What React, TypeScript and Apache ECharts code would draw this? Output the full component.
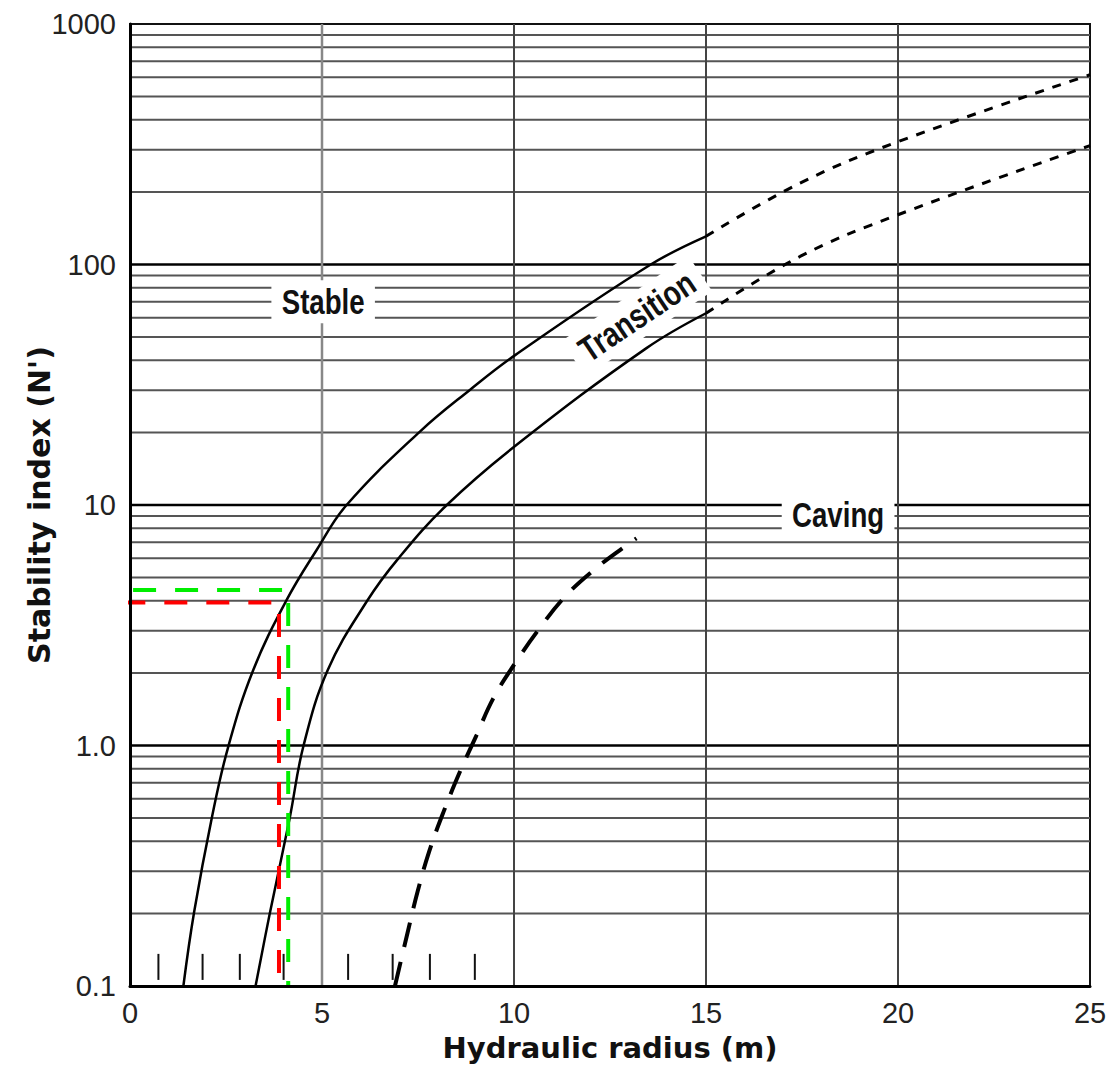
import React, { useEffect, useRef } from "react";
import * as echarts from "echarts";

// ---------- data ----------
const xTickValues = [0, 5, 10, 15, 20, 25];
const yTickLabels = ["0.1", "1.0", "10", "100", "1000"];
const verticalGridValues = [5, 10, 15, 20];
const majorLevels = [1, 10, 100];
const minorLevels = [
  0.2, 0.3, 0.4, 0.5, 0.6, 0.7, 0.8, 0.9,
  2, 3, 4, 5, 6, 7, 8, 9,
  20, 30, 40, 50, 60, 70, 80, 90,
  200, 300, 400, 500, 600, 700, 800, 900,
];

// Stable / Transition boundary
const upperSolid = [
  [1.39, 0.1], [1.67, 0.203], [2.13, 0.5], [2.56, 0.99], [3.21, 2.06], [4.08, 4.03],
  [4.86, 6.5], [5.64, 10], [7.55, 20.2], [8.85, 30.1], [10.03, 42], [13.54, 99.5], [15, 131],
];
const upperDashed = [[15, 131], [17.45, 218], [20, 324], [25, 615]];

// Transition / Caving boundary
const lowerSolid = [
  [3.27, 0.1], [3.64, 0.2], [4.16, 0.5], [4.52, 1.0], [5.15, 2.06], [6.16, 3.96],
  [6.99, 6.0], [8.25, 10], [10.07, 17.8], [13.45, 44.9], [15, 62.7],
];
const lowerDashed = [[15, 62.7], [17.45, 108], [20, 161], [25, 312]];

// Caving (dashed)
const cavingCurve = [
  [6.9, 0.1], [7.23, 0.167], [7.49, 0.247], [7.79, 0.362], [8.16, 0.527], [8.58, 0.77],
  [9.02, 1.1], [9.46, 1.57], [10.03, 2.2], [10.64, 3.03], [11.31, 4.13], [12.08, 5.37],
  [12.91, 6.77], [13.19, 7.27],
];

// Annotation guides
const redGuide = [[-0.2, 3.93], [3.88, 3.93], [3.88, 0.1]];
const greenGuide = [[0.08, 4.43], [4.12, 4.43], [4.12, 0.1]];

// small ticks along the bottom
const bottomTickXs = [0.74, 1.89, 2.86, 4.0, 5.68, 6.84, 7.81, 8.98];

// zone labels (text, x, N', rotation in degrees)
const zoneLabelTexts = ["Stable", "Transition", "Caving"];
const zoneLabelX = [5.03, 13.2, 18.44];
const zoneLabelY = [70, 61, 9.08];
const zoneLabelRot = [0, 34, 0];

const X_MIN = 0;
const X_MAX = 25;
const Y_MIN = 0.1;
const Y_MAX = 1000;

export default function App() {
  const ref = useRef<HTMLDivElement>(null);

  useEffect(() => {
    if (!ref.current) return;
    const chart = echarts.init(ref.current, null, { renderer: "svg" });

    const hLine = (color: string, width: number) => (params: any, api: any) => {
      const v = api.value(1);
      const p1 = api.coord([X_MIN, v]);
      const p2 = api.coord([X_MAX, v]);
      return {
        type: "line",
        shape: { x1: p1[0], y1: p1[1], x2: p2[0], y2: p2[1] },
        style: { stroke: color, lineWidth: width },
      };
    };

    const curve = (name: string, data: number[][], width: number, dash?: number[]) => ({
      type: "line",
      name,
      z: 5,
      smooth: 0.4,
      showSymbol: false,
      data,
      lineStyle: dash
        ? { color: "#000", width, type: dash }
        : { color: "#000", width },
    });

    const option: any = {
      animation: false,
      backgroundColor: "#fff",
      grid: {
        left: 130,
        right: 20,
        top: 24,
        bottom: 88,
        show: true,
        borderColor: "#111",
        borderWidth: 2,
        backgroundColor: "transparent",
      },
      xAxis: {
        type: "value",
        min: X_MIN,
        max: X_MAX,
        interval: 5,
        z: 8,
        name: "Hydraulic radius (m)",
        nameLocation: "middle",
        nameGap: 47,
        nameTextStyle: {
          fontFamily: "DejaVu Sans",
          fontWeight: "bold",
          fontSize: 29,
          color: "#111",
        },
        axisLine: { show: true, lineStyle: { color: "#000", width: 3 } },
        axisTick: { show: false },
        splitLine: { show: false },
        axisLabel: {
          fontFamily: "Liberation Sans",
          fontSize: 29,
          color: "#222",
          margin: 12,
          formatter: (v: number) => (xTickValues.includes(v) ? String(v) : ""),
        },
      },
      yAxis: {
        type: "log",
        logBase: 10,
        min: Y_MIN,
        max: Y_MAX,
        z: 8,
        name: "Stability index (N')",
        nameLocation: "middle",
        nameGap: 76,
        nameMoveOverlap: false,
        nameTextStyle: {
          fontFamily: "DejaVu Sans",
          fontWeight: "bold",
          fontSize: 30,
          color: "#111",
        },
        axisLine: { show: true, lineStyle: { color: "#000", width: 3 } },
        axisTick: { show: false },
        splitLine: { show: false },
        axisLabel: {
          fontFamily: "Liberation Sans",
          fontSize: 29,
          color: "#222",
          margin: 14,
          formatter: (v: number, i: number) => yTickLabels[i] ?? String(v),
        },
      },
      series: [
        {
          type: "custom",
          name: "minorGrid",
          z: 1,
          silent: true,
          data: minorLevels.map((v) => [X_MIN, v]),
          renderItem: hLine("#555", 2),
        },
        {
          type: "custom",
          name: "majorGrid",
          z: 1,
          silent: true,
          data: majorLevels.map((v) => [X_MIN, v]),
          renderItem: hLine("#000", 2.5),
        },
        {
          type: "custom",
          name: "verticalGrid",
          z: 1,
          silent: true,
          data: verticalGridValues.map((x) => [x, Y_MIN]),
          renderItem: (params: any, api: any) => {
            const x = api.value(0);
            const p1 = api.coord([x, Y_MIN]);
            const p2 = api.coord([x, Y_MAX]);
            return {
              type: "line",
              shape: { x1: p1[0], y1: p1[1], x2: p2[0], y2: p2[1] },
              style: { stroke: x === 5 ? "#888" : "#444", lineWidth: x === 5 ? 2.5 : 2 },
            };
          },
        },
        {
          type: "custom",
          name: "bottomTicks",
          z: 4,
          silent: true,
          data: bottomTickXs.map((x) => [x, Y_MIN]),
          renderItem: (params: any, api: any) => {
            const x = api.value(0);
            const p1 = api.coord([x, 0.106]);
            const p2 = api.coord([x, 0.136]);
            return {
              type: "line",
              shape: { x1: p1[0], y1: p1[1], x2: p2[0], y2: p2[1] },
              style: { stroke: "#111", lineWidth: 2 },
            };
          },
        },
        curve("upperSolid", upperSolid, 2.5),
        curve("upperDashed", upperDashed, 3, [9, 9]),
        curve("lowerSolid", lowerSolid, 2.5),
        curve("lowerDashed", lowerDashed, 3, [9, 9]),
        curve("caving", cavingCurve, 4, [25, 15]),
        {
          type: "line",
          name: "greenGuide",
          z: 6,
          clip: false,
          showSymbol: false,
          data: greenGuide,
          lineStyle: { color: "#00ee00", width: 4, type: [23, 19] },
        },
        {
          type: "line",
          name: "redGuide",
          z: 6,
          clip: false,
          showSymbol: false,
          data: redGuide,
          lineStyle: { color: "#ff0000", width: 4, type: [23, 19] },
        },
      ],
    };

    chart.setOption(option);

    const graphics = zoneLabelTexts.map((text, i) => {
      const p = chart.convertToPixel({ gridIndex: 0 }, [zoneLabelX[i], zoneLabelY[i]]) as number[];
      return {
        type: "text",
        x: p[0],
        y: p[1],
        z: 3,
        scaleX: 0.79,
        rotation: (zoneLabelRot[i] * Math.PI) / 180,
        style: {
          text,
          fontFamily: "Liberation Sans",
          fontWeight: "bold",
          fontSize: 35,
          fill: "#111",
          align: "center",
          verticalAlign: "middle",
          backgroundColor: "#fff",
          padding: [4, 13, 4, 13],
        },
      };
    });
    chart.setOption({ graphic: graphics });

    return () => chart.dispose();
  }, []);

  return (
    <div
      ref={ref}
      style={{ position: "absolute", left: 0, top: 0, width: 1110, height: 1074 }}
    />
  );
}
